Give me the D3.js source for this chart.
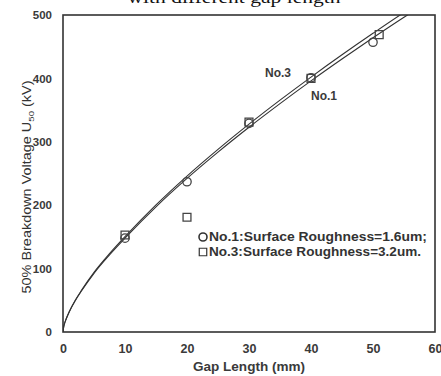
<!DOCTYPE html>
<html>
<head>
<meta charset="utf-8">
<script src="https://cdn.jsdelivr.net/npm/d3@7"></script>
<style>
  html, body { margin: 0; padding: 0; background: #fff; }
  svg { display: block; }
  text { font-family: "Liberation Sans", Arial, sans-serif; fill: #333; }
</style>
</head>
<body>
<svg id="chart" width="441" height="376"></svg>
<script>
// Measured breakdown voltages (kV) against gap length (mm)
const gapNo1 = [10, 20, 30, 40, 50];
const u50No1 = [148, 237, 329, 401, 457];
const gapNo3 = [10, 20, 30, 40, 51];
const u50No3 = [153, 181, 331, 400, 469];

// Fitted trend curves (kV) sampled along the gap axis
const fitGap = [0, 0.1, 0.25, 0.5, 1, 2, 3, 5, 7.5, 10, 15, 20, 25, 30, 35, 40, 45, 50, 55, 56];
const fitNo3 = [0, 7.5, 13.5, 20.5, 32.0, 50.5, 66.0, 94.0, 123.5, 150.3, 200.4, 245.9, 288.0, 327.8, 365.7, 402.1, 437.2, 471.1, 504.0, 510.3];
const fitNo1 = [0, 7.4, 13.3, 20.2, 31.5, 49.7, 65.0, 92.6, 121.6, 148.0, 197.4, 242.2, 283.7, 322.9, 360.2, 396.1, 430.6, 464.0, 496.4, 502.7];

const xTicks = [0, 10, 20, 30, 40, 50, 60];
const yTicks = [0, 100, 200, 300, 400, 500];

const titleText = "with different gap length";
const xTitle = "Gap Length (mm)";
const legendItems = ["No.1:Surface Roughness=1.6um;", "No.3:Surface Roughness=3.2um."];

const svg = d3.select("#chart");
const plotL = 63, plotR = 435, plotT = 15, plotB = 332;

const x = d3.scaleLinear().domain([0, 60]).range([plotL, plotR]);
const y = d3.scaleLinear().domain([0, 500]).range([plotB, plotT]);

// title, partly above the page edge
svg.append("text")
  .attr("x", 234).attr("y", 3)
  .attr("text-anchor", "middle")
  .style("font-family", "'Liberation Serif', 'Times New Roman', serif")
  .style("font-size", "17px")
  .style("fill", "#111")
  .attr("textLength", 213).attr("lengthAdjust", "spacingAndGlyphs")
  .text(titleText);

svg.append("clipPath").attr("id", "plotClip")
  .append("rect").attr("x", plotL).attr("y", plotT)
  .attr("width", plotR - plotL).attr("height", plotB - plotT);

// fitted curves
const line = d3.line()
  .x(d => x(d[0])).y(d => y(d[1]))
  .curve(d3.curveMonotoneX);

[fitNo3, fitNo1].forEach(vals => {
  svg.append("path")
    .attr("clip-path", "url(#plotClip)")
    .attr("d", line(fitGap.map((g, i) => [g, vals[i]])))
    .attr("fill", "none")
    .attr("stroke", "#333")
    .attr("stroke-width", 1.1);
});

// plot frame
svg.append("rect")
  .attr("x", plotL).attr("y", plotT)
  .attr("width", plotR - plotL).attr("height", plotB - plotT)
  .attr("fill", "none").attr("stroke", "#333").attr("stroke-width", 1.6);

// axes: labels only, no tick marks
const xAxis = svg.append("g").attr("transform", `translate(0,${plotB})`)
  .call(d3.axisBottom(x).tickValues(xTicks).tickSize(0).tickPadding(12).tickFormat(d3.format("d")));
xAxis.select(".domain").remove();
xAxis.selectAll("text")
  .style("font-size", "12.5px").style("font-weight", "bold").style("fill", "#3a3a3a")
  .style("font-family", "'Liberation Sans', Arial, sans-serif");

const yAxis = svg.append("g").attr("transform", `translate(${plotL},0)`)
  .call(d3.axisLeft(y).tickValues(yTicks).tickSize(0).tickPadding(11).tickFormat(d3.format("d")));
yAxis.select(".domain").remove();
yAxis.selectAll("text")
  .style("font-size", "11.5px").style("font-weight", "bold").style("fill", "#3a3a3a")
  .style("font-family", "'Liberation Sans', Arial, sans-serif");

// axis titles
svg.append("text")
  .attr("x", 249).attr("y", 371)
  .attr("text-anchor", "middle")
  .style("font-size", "12.5px").style("font-weight", "bold").style("fill", "#3a3a3a")
  .attr("textLength", 112).attr("lengthAdjust", "spacingAndGlyphs")
  .text(xTitle);

const yTitle = svg.append("text")
  .attr("transform", "translate(31,187) rotate(-90)")
  .attr("text-anchor", "middle")
  .style("font-size", "12px").style("fill", "#333")
  .attr("textLength", 213).attr("lengthAdjust", "spacingAndGlyphs");
yTitle.append("tspan").text("50% Breakdown Voltage U");
yTitle.append("tspan").attr("dy", 3).style("font-size", "8px").text("50");
yTitle.append("tspan").attr("dy", -3).text(" (kV)");

// data markers
const symSquare = d3.symbol().type(d3.symbolSquare).size(62);
svg.append("g").selectAll("path")
  .data(gapNo3.map((g, i) => [g, u50No3[i]]))
  .join("path")
  .attr("d", symSquare)
  .attr("transform", d => `translate(${x(d[0])},${y(d[1])})`)
  .attr("fill", "none").attr("stroke", "#444").attr("stroke-width", 1.3);

svg.append("g").selectAll("circle")
  .data(gapNo1.map((g, i) => [g, u50No1[i]]))
  .join("circle")
  .attr("cx", d => x(d[0])).attr("cy", d => y(d[1])).attr("r", 4.2)
  .attr("fill", "none").attr("stroke", "#444").attr("stroke-width", 1.3);

// curve labels
svg.append("text").attr("x", 265).attr("y", 77)
  .style("font-size", "12px").style("font-weight", "bold").style("fill", "#3a3a3a")
  .text("No.3");
svg.append("text").attr("x", 311).attr("y", 100)
  .style("font-size", "12px").style("font-weight", "bold").style("fill", "#3a3a3a")
  .text("No.1");

// legend
const legend = svg.append("g");
legend.append("circle").attr("cx", 203).attr("cy", 237).attr("r", 4)
  .attr("fill", "none").attr("stroke", "#333").attr("stroke-width", 1.6);
legend.append("path").attr("d", d3.symbol().type(d3.symbolSquare).size(56))
  .attr("transform", "translate(203,252)")
  .attr("fill", "none").attr("stroke", "#333").attr("stroke-width", 1.2);
legendItems.forEach((t, i) => {
  legend.append("text")
    .attr("x", 209).attr("y", 241 + i * 15)
    .style("font-size", "12px").style("font-weight", "bold").style("fill", "#333")
    .attr("textLength", i === 0 ? 218 : 212).attr("lengthAdjust", "spacingAndGlyphs")
    .text(t);
});
</script>
</body>
</html>
